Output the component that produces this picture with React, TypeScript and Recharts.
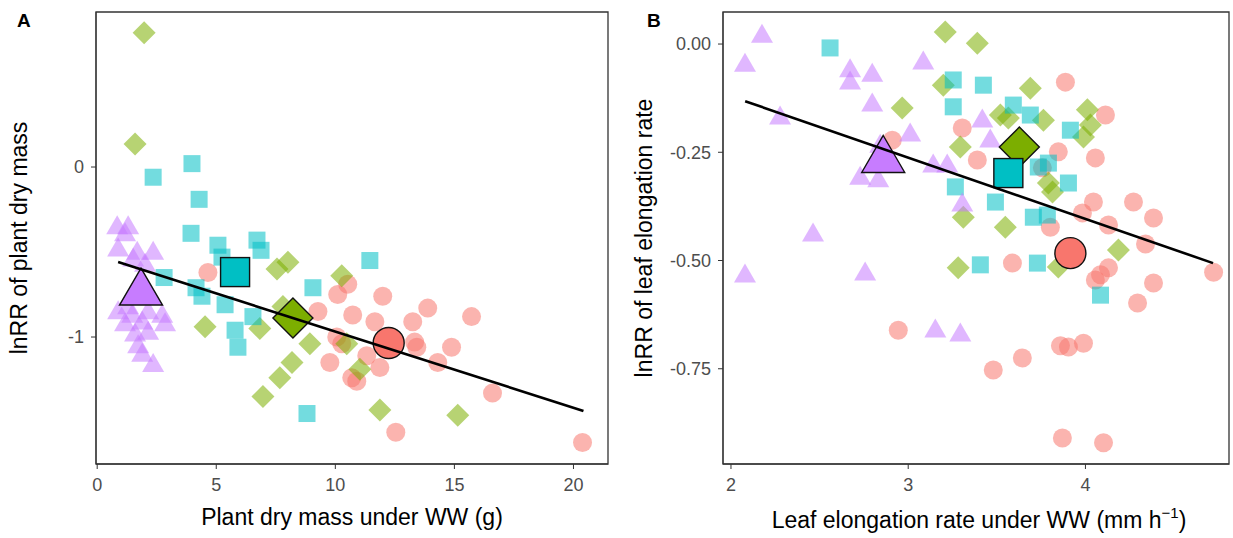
import React from 'react';
import { ScatterChart, Scatter, XAxis, YAxis, ReferenceArea } from 'recharts';

// ---------- Panel A: plant dry mass ----------
const massCircleX = [4.65, 10.10, 10.52, 11.99, 9.27, 10.73, 11.66, 13.88, 13.25, 15.72, 10.06, 10.27, 11.32, 11.87, 9.77, 10.69, 10.90, 13.33, 13.42, 14.30, 14.88, 16.60, 12.54, 20.38];
const massCircleY = [-0.62, -0.75, -0.69, -0.76, -0.85, -0.87, -0.91, -0.83, -0.91, -0.88, -1.00, -1.04, -1.11, -1.18, -1.15, -1.24, -1.26, -1.03, -1.06, -1.15, -1.06, -1.33, -1.56, -1.62];

const massDiamondX = [1.97, 1.59, 4.53, 6.83, 7.55, 8.01, 10.27, 8.93, 8.18, 7.67, 6.96, 10.48, 11.03, 11.87, 15.14, 7.80];
const massDiamondY = [0.79, 0.135, -0.94, -0.95, -0.60, -0.56, -0.64, -1.04, -1.15, -1.24, -1.35, -1.04, -1.19, -1.43, -1.46, -0.82];

const massSquareX = [2.35, 3.98, 4.28, 3.94, 5.07, 5.24, 6.71, 6.88, 2.81, 4.15, 4.40, 5.37, 5.79, 5.91, 6.54, 9.06, 11.45, 8.81];
const massSquareY = [-0.06, 0.02, -0.19, -0.39, -0.46, -0.53, -0.43, -0.49, -0.65, -0.71, -0.76, -0.81, -0.96, -1.06, -0.88, -0.71, -0.55, -1.45];

const massTriangleX = [0.84, 1.30, 1.17, 0.88, 1.68, 2.35, 1.51, 2.01, 0.88, 1.47, 2.14, 2.73, 1.17, 1.89, 2.85, 1.59, 2.14, 1.72, 1.89, 2.35, 1.30];
const massTriangleY = [-0.34, -0.34, -0.38, -0.47, -0.49, -0.49, -0.53, -0.56, -0.84, -0.86, -0.84, -0.86, -0.91, -0.90, -0.91, -0.97, -0.96, -1.04, -1.09, -1.15, -0.81];

// group means (x, y): circle, diamond, square, triangle
const massMeans = [
  [12.24, -1.035],
  [8.22, -0.888],
  [5.79, -0.618],
  [1.84, -0.703],
];
const massFitX = [0.88, 20.42];
const massFitY = [-0.559, -1.435];

const massXTicks = [0, 5, 10, 15, 20];
const massYTicks = [-1, 0];

// ---------- Panel B: leaf elongation rate ----------
const lerCircleX = [2.910, 3.305, 3.390, 3.887, 4.113, 3.847, 4.056, 3.757, 4.045, 4.271, 4.384, 3.983, 4.130, 4.339, 3.802, 3.588, 4.723, 4.130, 4.085, 4.056, 4.384, 4.294, 3.859, 3.904, 3.989, 3.480, 3.644, 3.870, 4.102, 2.944];
const lerCircleY = [-0.222, -0.194, -0.268, -0.088, -0.164, -0.249, -0.263, -0.286, -0.365, -0.365, -0.402, -0.390, -0.418, -0.462, -0.423, -0.506, -0.527, -0.517, -0.533, -0.545, -0.552, -0.598, -0.697, -0.700, -0.691, -0.753, -0.725, -0.910, -0.921, -0.661];

const lerDiamondX = [3.209, 3.390, 2.966, 3.198, 3.689, 3.294, 3.520, 3.565, 4.011, 4.028, 3.989, 3.763, 3.791, 3.814, 3.311, 3.548, 4.186, 3.282, 3.847];
const lerDiamondY = [0.028, 0.002, -0.148, -0.095, -0.102, -0.238, -0.164, -0.171, -0.152, -0.187, -0.215, -0.176, -0.321, -0.342, -0.400, -0.423, -0.476, -0.517, -0.515];

const lerSquareX = [2.559, 3.254, 3.424, 3.254, 3.593, 3.689, 3.915, 3.791, 3.904, 3.266, 3.492, 3.706, 3.785, 3.407, 3.729, 4.085, 3.734];
const lerSquareY = [-0.009, -0.083, -0.095, -0.145, -0.141, -0.164, -0.199, -0.275, -0.321, -0.330, -0.365, -0.400, -0.395, -0.510, -0.506, -0.580, -0.284];

const lerTriangleX = [2.175, 2.079, 2.672, 2.672, 2.797, 2.277, 2.797, 3.085, 3.011, 2.842, 3.418, 3.463, 3.141, 3.220, 2.729, 2.831, 3.305, 2.463, 2.079, 2.757, 3.153, 3.294];
const lerTriangleY = [0.025, -0.042, -0.055, -0.083, -0.065, -0.164, -0.134, -0.037, -0.203, -0.229, -0.171, -0.217, -0.275, -0.275, -0.303, -0.309, -0.365, -0.434, -0.529, -0.524, -0.656, -0.665];

const lerMeans = [
  [3.915, -0.483],
  [3.627, -0.238],
  [3.565, -0.298],
  [2.859, -0.254],
];
const lerFitX = [2.08, 4.72];
const lerFitY = [-0.132, -0.506];

const lerXTicks = [2, 3, 4];
const lerYTicks = [-0.75, -0.5, -0.25, 0];

// ---------- styling ----------
const RED = '#F8766D';
const GREEN = '#7CAE00';
const CYAN = '#00BFC4';
const PURPLE = '#C77CFF';
const FONT = '"Liberation Sans", Arial, Helvetica, sans-serif';
const AXIS = '#333333';
const ALPHA = 0.55;

type Pt = { x: number; y: number };
const zip = (xs: number[], ys: number[]): Pt[] => xs.map((x, i) => ({ x, y: ys[i] }));
const one = (m: number[]): Pt[] => [{ x: m[0], y: m[1] }];

type ShapeOpts = { fill: string; opacity: number; stroke?: string };

const circleShape = (r: number, o: ShapeOpts) => (p: any) => (
  <circle cx={p.cx} cy={p.cy} r={r} fill={o.fill} fillOpacity={o.opacity}
    stroke={o.stroke || 'none'} strokeWidth={o.stroke ? 1.4 : 0} />
);
const squareShape = (s: number, o: ShapeOpts) => (p: any) => (
  <rect x={p.cx - s / 2} y={p.cy - s / 2} width={s} height={s} fill={o.fill} fillOpacity={o.opacity}
    stroke={o.stroke || 'none'} strokeWidth={o.stroke ? 1.4 : 0} />
);
const diamondShape = (h: number, o: ShapeOpts) => (p: any) => (
  <polygon points={`${p.cx},${p.cy - h} ${p.cx + h},${p.cy} ${p.cx},${p.cy + h} ${p.cx - h},${p.cy}`}
    fill={o.fill} fillOpacity={o.opacity} stroke={o.stroke || 'none'} strokeWidth={o.stroke ? 1.4 : 0} />
);
const triangleShape = (w: number, h: number, o: ShapeOpts) => (p: any) => (
  <polygon points={`${p.cx},${p.cy - h / 2} ${p.cx + w / 2},${p.cy + h / 2} ${p.cx - w / 2},${p.cy + h / 2}`}
    fill={o.fill} fillOpacity={o.opacity} stroke={o.stroke || 'none'} strokeWidth={o.stroke ? 1.4 : 0} />
);
const noDot = () => <g />;

const small = (fill: string): ShapeOpts => ({ fill, opacity: ALPHA });
const big = (fill: string): ShapeOpts => ({ fill, opacity: 1, stroke: '#111' });

const tickStyle = { fontSize: 18, fill: '#4D4D4D', fontFamily: FONT };

type PanelProps = {
  width: number;
  yAxisWidth: number;
  marginRight: number;
  xDomain: [number, number];
  yDomain: [number, number];
  xTicks: number[];
  yTicks: number[];
  yFormat?: (v: number) => string;
  circles: Pt[];
  diamonds: Pt[];
  squares: Pt[];
  triangles: Pt[];
  means: number[][];
  fit: Pt[];
};

function Panel(props: PanelProps) {
  const { xDomain, yDomain } = props;
  return (
    <ScatterChart width={props.width} height={538}
      margin={{ top: 12, right: props.marginRight, bottom: 0, left: 0 }}>
      <XAxis type="number" dataKey="x" domain={xDomain} ticks={props.xTicks} allowDataOverflow
        height={74} tickSize={5} tickMargin={9} tick={tickStyle}
        axisLine={{ stroke: AXIS }} tickLine={{ stroke: AXIS }} />
      <YAxis type="number" dataKey="y" domain={yDomain} ticks={props.yTicks} allowDataOverflow
        width={props.yAxisWidth} tickSize={5} tickMargin={7} tick={tickStyle}
        tickFormatter={props.yFormat} axisLine={{ stroke: AXIS }} tickLine={{ stroke: AXIS }} />
      <ReferenceArea x1={xDomain[0]} x2={xDomain[1]} y1={yDomain[0]} y2={yDomain[1]}
        fill="none" stroke={AXIS} strokeWidth={1.3} />
      <Scatter data={props.circles} shape={circleShape(9.5, small(RED))} isAnimationActive={false} />
      <Scatter data={props.diamonds} shape={diamondShape(11.5, small(GREEN))} isAnimationActive={false} />
      <Scatter data={props.squares} shape={squareShape(17, small(CYAN))} isAnimationActive={false} />
      <Scatter data={props.triangles} shape={triangleShape(22, 19, small(PURPLE))} isAnimationActive={false} />
      <Scatter data={one(props.means[0])} shape={circleShape(15.5, big(RED))} isAnimationActive={false} />
      <Scatter data={one(props.means[1])} shape={diamondShape(20, big(GREEN))} isAnimationActive={false} />
      <Scatter data={one(props.means[2])} shape={squareShape(29, big(CYAN))} isAnimationActive={false} />
      <Scatter data={one(props.means[3])} shape={triangleShape(43, 37, big(PURPLE))} isAnimationActive={false} />
      <Scatter data={props.fit} shape={noDot} line={{ stroke: '#000', strokeWidth: 2.6 }}
        lineType="joint" isAnimationActive={false} />
    </ScatterChart>
  );
}

export default function App() {
  return (
    <div style={{ position: 'absolute', left: 0, top: 0, width: 1233, height: 538, background: '#fff', fontFamily: FONT }}>
      <div style={{ position: 'absolute', left: 0, top: 0 }}>
        <Panel width={620} yAxisWidth={96} marginRight={12}
          xDomain={[-0.05, 21.45]} yDomain={[-1.747, 0.912]}
          xTicks={massXTicks} yTicks={massYTicks}
          circles={zip(massCircleX, massCircleY)}
          diamonds={zip(massDiamondX, massDiamondY)}
          squares={zip(massSquareX, massSquareY)}
          triangles={zip(massTriangleX, massTriangleY)}
          means={massMeans}
          fit={zip(massFitX, massFitY)} />
      </div>
      <div style={{ position: 'absolute', left: 620, top: 0 }}>
        <Panel width={613} yAxisWidth={103} marginRight={4}
          xDomain={[1.955, 4.81]} yDomain={[-0.97, 0.074]}
          xTicks={lerXTicks} yTicks={lerYTicks}
          yFormat={(v: number) => v.toFixed(2)}
          circles={zip(lerCircleX, lerCircleY)}
          diamonds={zip(lerDiamondX, lerDiamondY)}
          squares={zip(lerSquareX, lerSquareY)}
          triangles={zip(lerTriangleX, lerTriangleY)}
          means={lerMeans}
          fit={zip(lerFitX, lerFitY)} />
      </div>
      <svg width={1233} height={538} style={{ position: 'absolute', left: 0, top: 0, pointerEvents: 'none' }}
        fontFamily={FONT}>
        <text x={17} y={27} fontSize={19} fontWeight="bold" fill="#000">A</text>
        <text x={647} y={27} fontSize={19} fontWeight="bold" fill="#000">B</text>
        <text x={352} y={525} fontSize={23} textAnchor="middle" fill="#000">Plant dry mass under WW (g)</text>
        <text x={979} y={528} fontSize={23} textAnchor="middle" fill="#000">
          Leaf elongation rate under WW (mm h<tspan fontSize={15} dy={-10}>−1</tspan><tspan dy={10}>)</tspan>
        </text>
        <text x={27} y={238} fontSize={23} textAnchor="middle" fill="#000" transform="rotate(-90 27 238)">
          lnRR of plant dry mass
        </text>
        <text x={652} y={238} fontSize={23} textAnchor="middle" fill="#000" transform="rotate(-90 652 238)">
          lnRR of leaf elongation rate
        </text>
      </svg>
    </div>
  );
}
